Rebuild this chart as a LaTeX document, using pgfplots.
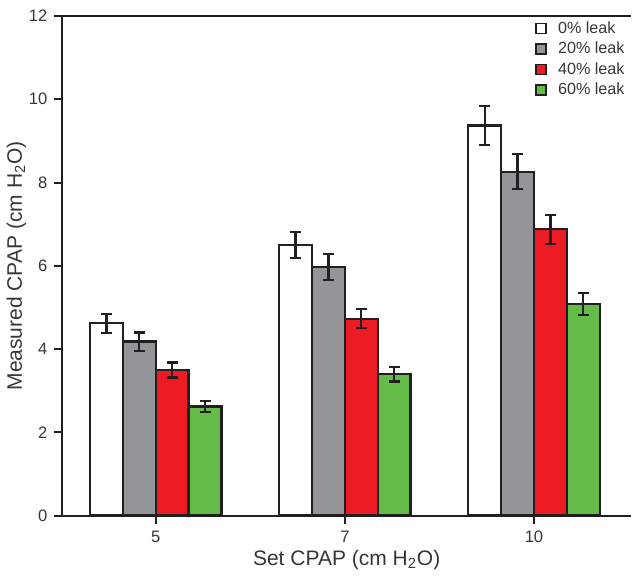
\documentclass[border=0pt]{standalone}
\usepackage{fontspec}
\setmainfont{Liberation Sans}
\usepackage{pgfplots}
\pgfplotsset{compat=1.18}

\definecolor{edge}{HTML}{231F20}
\definecolor{leakgray}{HTML}{939598}
\definecolor{leakred}{HTML}{ED1C24}
\definecolor{leakgreen}{HTML}{64BB48}

\begin{document}
\begin{tikzpicture}
\begin{axis}[
    scale only axis,
    width=284.5bp, height=250bp,
    ybar=0pt,
    bar width=0.174,
    xmin=-0.494, xmax=2.513,
    ymin=0, ymax=12,
    xtick={0,1,2},
    xticklabels={5,7,10},
    ytick={0,2,...,12},
    axis x line*=box,
    axis y line*=left,
    axis line style={edge, line width=1bp},
    tick style={edge, line width=1bp},
    major tick length=4bp,
    xtick pos=bottom,
    ytick pos=left,
    tick align=outside,
    /pgf/number format/assume math mode=true,
    tick label style={font=\fontsize{8.3bp}{10bp}\selectfont, text=edge!90},
    xlabel={Set CPAP (cm H\textsubscript{2}O)},
    ylabel={Measured CPAP (cm H\textsubscript{2}O)},
    label style={font=\fontsize{10.5bp}{12bp}\selectfont, text=edge!90},
    xlabel style={yshift=3bp},
    ylabel style={yshift=-5.5bp},
    legend style={draw=none, fill=none, at={(1.0,1.002)}, anchor=north east,
        font=\fontsize{8.1bp}{10bp}\selectfont, text=edge!90,
        row sep=-1.1bp, inner sep=1bp,
        /tikz/every odd column/.append style={column sep=3.5bp}},
    legend cell align=left,
    legend image code/.code={\draw[#1, line width=0.9bp] (0bp,-2.4bp) rectangle (5bp,2.6bp);},
    extra description/.code={\path (rel axis cs:0,1) ++(0,8bp);},
    every axis plot/.append style={draw=edge, line width=1.2bp,
        /pgfplots/error bars/y dir=both,
        /pgfplots/error bars/y explicit,
        /pgfplots/error bars/error bar style={edge, line width=1.1bp},
        /pgfplots/error bars/error mark options={rotate=90, mark size=2.7bp, edge, line width=1.1bp}},
]
\addplot[fill=white] coordinates {(0,4.62) +- (0,0.23) (1,6.50) +- (0,0.32) (2,9.37) +- (0,0.47)};
\addplot[fill=leakgray] coordinates {(0,4.18) +- (0,0.22) (1,5.97) +- (0,0.31) (2,8.26) +- (0,0.42)};
\addplot[fill=leakred] coordinates {(0,3.50) +- (0,0.18) (1,4.73) +- (0,0.23) (2,6.88) +- (0,0.35)};
\addplot[fill=leakgreen] coordinates {(0,2.62) +- (0,0.13) (1,3.40) +- (0,0.18) (2,5.08) +- (0,0.26)};
\legend{0\% leak, 20\% leak, 40\% leak, 60\% leak}
\end{axis}
\end{tikzpicture}
\end{document}
